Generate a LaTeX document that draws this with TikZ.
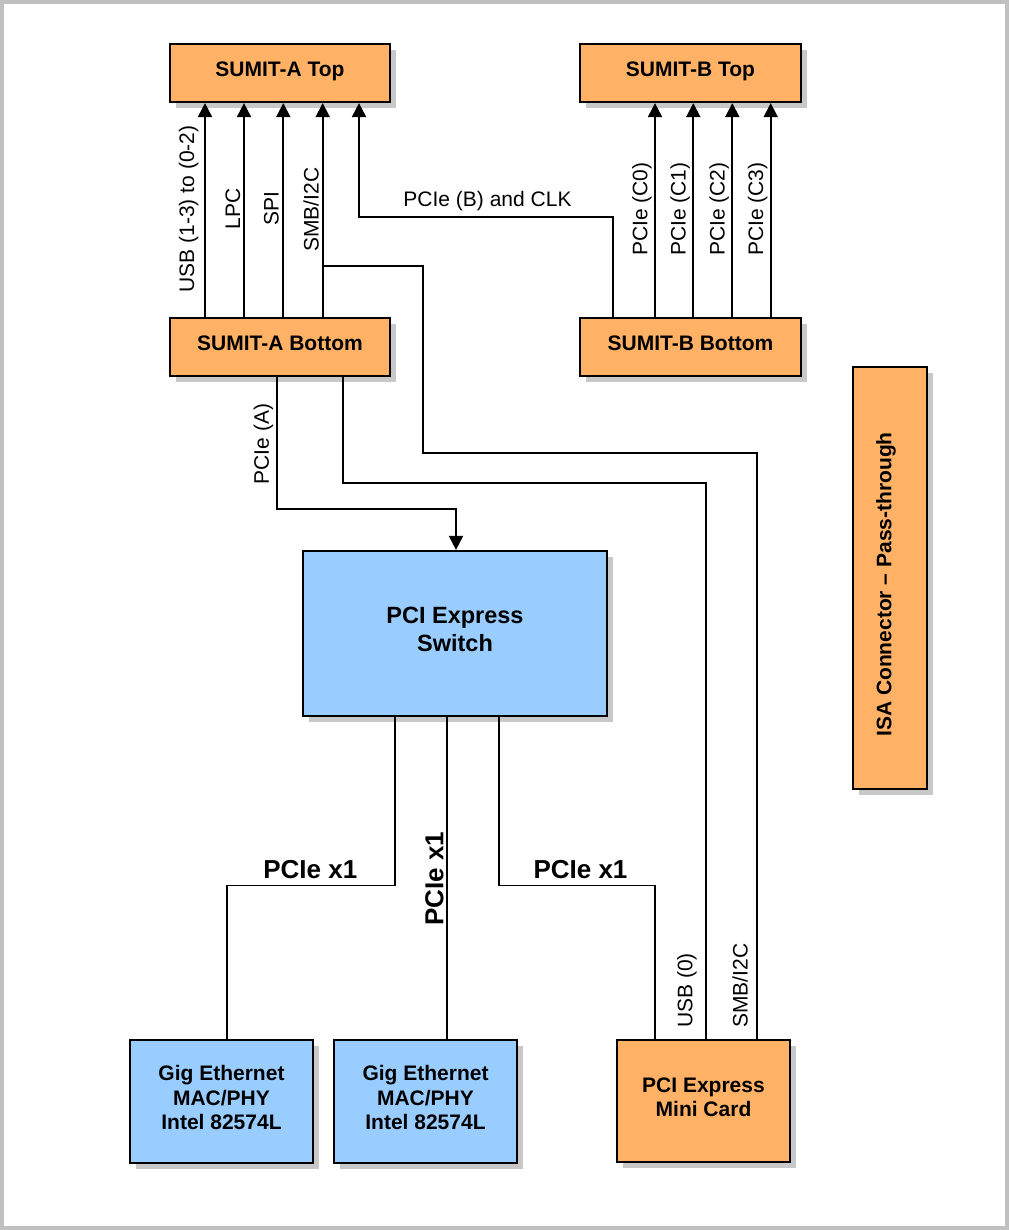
\documentclass[tikz,border=0pt]{standalone}
\usepackage{fontspec}
\setmainfont{Liberation Sans}
\usetikzlibrary{arrows.meta,shadows}
\definecolor{orng}{HTML}{FFB266}
\definecolor{blu}{HTML}{99CCFF}
\definecolor{shd}{HTML}{C8C8C8}
\definecolor{frm}{HTML}{C0C0C0}
\begin{document}
\begin{tikzpicture}[x=1pt,y=-1pt,
  box/.style={draw=black, line width=2.2pt, rectangle, inner sep=0pt, align=center,
    font=\fontsize{21}{24.5}\selectfont\bfseries,
    execute at end node={\rule[-8pt]{0pt}{0pt}},
    general shadow={fill=shd, shadow xshift=6pt, shadow yshift=-6pt}},
  ob/.style={box, fill=orng},
  bb/.style={box, fill=blu},
  wire/.style={line width=1.9pt},
  arr/.style={wire, -{Triangle[width=14pt,length=14pt]}},
  lbl/.style={font=\fontsize{21}{24}\selectfont, inner sep=0pt},
  blbl/.style={font=\fontsize{26}{30}\selectfont\bfseries, inner sep=0pt},
  ]
\useasboundingbox (0,0) rectangle (1009,1230);
\fill[frm] (0,0) rectangle (1009,1230);
\fill[white] (4,4) rectangle (1005,1226);

% boxes
\node[ob, minimum width=220pt, minimum height=58pt] (sat) at (280,73) {SUMIT-A Top};
\node[ob, minimum width=220pt, minimum height=58pt] (sab) at (280,347) {SUMIT-A Bottom};
\node[ob, minimum width=221pt, minimum height=58pt] (sbt) at (690.5,73) {SUMIT-B Top};
\node[ob, minimum width=221pt, minimum height=58pt] (sbb) at (690.5,347) {SUMIT-B Bottom};
\node[ob, minimum width=74pt, minimum height=422pt] (isa) at (890,578) {};
\node[lbl, font=\fontsize{21}{24}\selectfont\bfseries, rotate=90] (isatxt) at (886,584.5) {ISA Connector – Pass-through};
\node[bb, minimum width=304pt, minimum height=165pt, font=\fontsize{23.5}{28}\selectfont\bfseries] (sw) at (455,633.5) {PCI Express\\Switch};
\node[bb, minimum width=183pt, minimum height=123pt] (g1) at (221.5,1101.5) {Gig Ethernet\\MAC/PHY\\Intel 82574L};
\node[bb, minimum width=183pt, minimum height=123pt] (g2) at (425.5,1101.5) {Gig Ethernet\\MAC/PHY\\Intel 82574L};
\node[ob, minimum width=173pt, minimum height=122pt] (mc) at (703.5,1101) {PCI Express\\Mini Card};

% SUMIT-A bottom -> top
\draw[arr] (205,0 |- sab.north) -- (205,0 |- sat.south);
\draw[arr] (244,0 |- sab.north) -- (244,0 |- sat.south);
\draw[arr] (283.3,0 |- sab.north) -- (283.3,0 |- sat.south);
\draw[arr] (322.7,0 |- sab.north) -- (322.7,0 |- sat.south);
% SUMIT-B bottom -> top
\draw[arr] (655,0 |- sbb.north) -- (655,0 |- sbt.south);
\draw[arr] (693.3,0 |- sbb.north) -- (693.3,0 |- sbt.south);
\draw[arr] (732.3,0 |- sbb.north) -- (732.3,0 |- sbt.south);
\draw[arr] (770.7,0 |- sbb.north) -- (770.7,0 |- sbt.south);
% PCIe (B) and CLK
\draw[arr] (613,0 |- sbb.north) -- (613,217.3) -- (359,217.3) -- (359,0 |- sat.south);
% SMB/I2C branch to mini card
\coordinate (smbj) at (322.7,266);
\draw[wire] (smbj) -- (423,266) -- (423,453.3) -- (756.7,453.3) -- (756.7,0 |- mc.north);
% USB (0)
\draw[wire] (343,0 |- sab.south) -- (343,483.3) -- (706,483.3) -- (706,0 |- mc.north);
% PCIe (A)
\draw[arr] (277.3,0 |- sab.south) -- (277.3,509.3) -- (456,509.3) -- (456,0 |- sw.north);
% switch to endpoints
\draw[wire] (395,0 |- sw.south) -- (395,885.5) -- (226.7,885.5) -- (226.7,0 |- g1.north);
\draw[wire] (447,0 |- sw.south) -- (447,0 |- g2.north);
\draw[wire] (499,0 |- sw.south) -- (499,885.5) -- (655,885.5) -- (655,0 |- mc.north);

% labels
\node[lbl, rotate=90, anchor=base] at (194,209) {USB (1-3) to (0-2)};
\node[lbl, rotate=90, anchor=base] at (240,209) {LPC};
\node[lbl, rotate=90, anchor=base] at (278.5,209) {SPI};
\node[lbl, rotate=90, anchor=base] at (318.5,209.5) {SMB/I2C};
\node[lbl, rotate=90, anchor=base] at (647.3,209) {PCIe (C0)};
\node[lbl, rotate=90, anchor=base] at (685.5,209) {PCIe (C1)};
\node[lbl, rotate=90, anchor=base] at (724.5,209) {PCIe (C2)};
\node[lbl, rotate=90, anchor=base] at (763,209) {PCIe (C3)};
\node[lbl, anchor=base] at (487.5,206.7) {PCIe (B) and CLK};
\node[lbl, rotate=90, anchor=base] at (268.8,444) {PCIe (A)};
\node[blbl, anchor=base] at (310.3,878.3) {PCIe x1};
\node[blbl, anchor=base] at (580.5,878.3) {PCIe x1};
\node[blbl, rotate=90, anchor=base] at (443.3,878.7) {PCIe x1};
\node[lbl, rotate=90, anchor=base west] at (692.3,1028) {USB (0)};
\node[lbl, rotate=90, anchor=base west] at (747.5,1028) {SMB/I2C};
\end{tikzpicture}
\end{document}
